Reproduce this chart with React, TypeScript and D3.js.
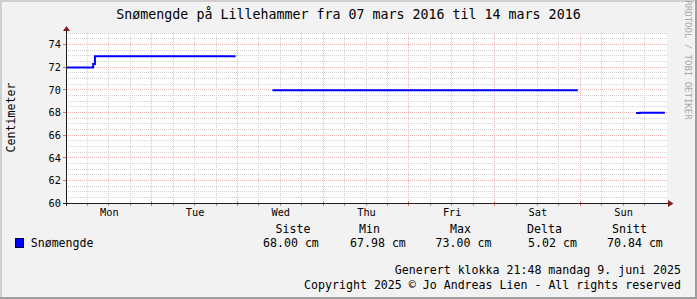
import React from "react";
import * as d3 from "d3";

// ---- data (hours since Mon 07 mars 2016 00:00) ----
const hours = [0, 7.6, 8.1, 47.5, 47.51, 57.8, 143.3, 143.31, 159.6, 160.7, 167.7];
const snow: (number | null)[] = [72, 72.3, 73, 73, null, 70, 70, null, 67.98, 68, 68];

const dayLabels = ["Mon", "Tue", "Wed", "Thu", "Fri", "Sat", "Sun"];
const yTicks = [60, 62, 64, 66, 68, 70, 72, 74];

const statHeaders = ["Siste", "Min", "Max", "Delta", "Snitt"];
const statValues = ["68.00 cm", "67.98 cm", "73.00 cm", "5.02 cm", "70.84 cm"];
const seriesName = "Snømengde";
const title = "Snømengde på Lillehammer fra 07 mars 2016 til 14 mars 2016";
const unitLabel = "Centimeter";
const generated = "Generert klokka 21:48 mandag 9. juni 2025";
const copyright = "Copyright 2025 © Jo Andreas Lien - All rights reserved";
const watermark = "RRDTOOL / TOBI OETIKER";

const W = 697;
const H = 299;
const FONT = "'DejaVu Sans Mono', monospace";

export default function App() {
  const x = d3.scaleLinear().domain([0, 168]).range([66, 666]);
  const y = d3.scaleLinear().domain([60, 75]).range([203, 33]);

  const px = (v: number) => Math.floor(v) + 0.5;

  const minorV = d3.range(6, 168, 6).filter((h) => h % 24 !== 0);
  const majorV = d3.range(24, 168, 24);
  const minorH = d3.range(60.5, 75.01, 0.5).filter((v) => v % 2 !== 0);
  const majorH = yTicks.filter((v) => v !== 60);

  const pts = hours.map((h, i) => ({ h, v: snow[i] }));
  const line = d3
    .line<{ h: number; v: number | null }>()
    .defined((d) => d.v !== null)
    .x((d) => x(d.h))
    .y((d) => y(d.v as number) + 0.5)
    .curve(d3.curveStepAfter);

  const gridMinor = "#d2d2d2";
  const gridMajor = "#f0b8b8";
  const axisCol = "#1f1f1f";
  const arrowCol = "#7f1f1f";

  const statX = [263, 350, 435.6, 528, 607];
  const headX = [275.6, 359, 450, 527, 612];
  const LF = 11.6;

  return (
    <svg
      width={W}
      height={H}
      style={{ position: "absolute", left: 0, top: 0, display: "block" }}
      fontFamily={FONT}
    >
      {/* background and frame */}
      <rect x={0} y={0} width={W} height={H} fill="#f2f2f2" />
      <rect x={0} y={0} width={W} height={2} fill="#cfcfcf" />
      <rect x={0} y={0} width={2} height={H} fill="#cfcfcf" />
      <rect x={0} y={H - 2} width={W} height={2} fill="#9e9e9e" />
      <rect x={W - 2} y={0} width={2} height={H} fill="#9e9e9e" />

      {/* canvas */}
      <rect x={66} y={33} width={601} height={171} fill="#ffffff" />

      {/* minor grid */}
      {minorH.map((v) => (
        <line key={"mh" + v} x1={66} x2={667} y1={px(y(v))} y2={px(y(v))} stroke={gridMinor} strokeDasharray="1,1" />
      ))}
      {minorV.map((h) => (
        <line key={"mv" + h} x1={px(x(h))} x2={px(x(h))} y1={33} y2={203} stroke={gridMinor} strokeDasharray="1,1" />
      ))}
      {/* major grid */}
      {majorH.map((v) => (
        <line key={"Mh" + v} x1={66} x2={667} y1={px(y(v))} y2={px(y(v))} stroke={gridMajor} strokeDasharray="1,1" />
      ))}
      {majorV.map((h) => (
        <line key={"Mv" + h} x1={px(x(h))} x2={px(x(h))} y1={33} y2={203} stroke={gridMajor} strokeDasharray="1,1" />
      ))}

      {/* ticks */}
      {minorV.map((h) => (
        <line key={"tm" + h} x1={px(x(h))} x2={px(x(h))} y1={203} y2={206} stroke="#9a9a9a" />
      ))}
      {majorV.map((h) => (
        <line key={"tM" + h} x1={px(x(h))} x2={px(x(h))} y1={201} y2={206} stroke="#d87070" />
      ))}
      {majorH.map((v) => (
        <line key={"ty" + v} x1={63} x2={66} y1={px(y(v))} y2={px(y(v))} stroke="#d87070" />
      ))}

      {/* data */}
      <path d={line(pts) || ""} fill="none" stroke="#0000ff" strokeWidth={2} />

      {/* axes */}
      <line x1={63} x2={670} y1={203.5} y2={203.5} stroke={axisCol} />
      <line x1={66.5} x2={66.5} y1={206} y2={29} stroke={axisCol} />
      <path d="M668,200 L673.5,203.5 L668,207 Z" fill={arrowCol} />
      <path d="M63,31 L66.5,26 L70,31 Z" fill={arrowCol} />

      {/* y tick labels */}
      {yTicks.map((v) => (
        <text key={"yl" + v} x={61} y={y(v) + 4} textAnchor="end" fontSize={10.3} fill="#000">
          {v}
        </text>
      ))}
      {/* x labels */}
      {dayLabels.map((d, i) => (
        <text key={d} x={x(i * 24 + 12) + 0.5} y={216} textAnchor="middle" fontSize={10.3} fill="#000">
          {d}
        </text>
      ))}

      {/* title */}
      <text x={348.5} y={19} textAnchor="middle" fontSize={13.3} fill="#000">
        {title}
      </text>

      {/* unit label */}
      <text
        x={0}
        y={0}
        transform="translate(14.5,117.5) rotate(-90)"
        textAnchor="middle"
        fontSize={LF}
        fill="#000"
      >
        {unitLabel}
      </text>

      {/* watermark */}
      <text
        x={0}
        y={0}
        transform="translate(685,60) rotate(90)"
        textAnchor="middle"
        fontSize={9}
        fill="#a8a8a8"
      >
        {watermark}
      </text>

      {/* legend */}
      {statHeaders.map((s, i) => (
        <text key={s} x={headX[i]} y={233} fontSize={LF} fill="#000">
          {s}
        </text>
      ))}
      <rect x={15.5} y={238.5} width={8} height={9} fill="#0000ff" stroke="#000033" strokeWidth={1} />
      <text x={30.7} y={247} fontSize={LF} fill="#000">
        {seriesName}
      </text>
      {statValues.map((s, i) => (
        <text key={"sv" + i} x={statX[i]} y={247} fontSize={LF} fill="#000">
          {s}
        </text>
      ))}
      <text x={681} y={274} textAnchor="end" fontSize={LF} fill="#000">
        {generated}
      </text>
      <text x={681} y={288.5} textAnchor="end" fontSize={LF} fill="#000">
        {copyright}
      </text>
    </svg>
  );
}
